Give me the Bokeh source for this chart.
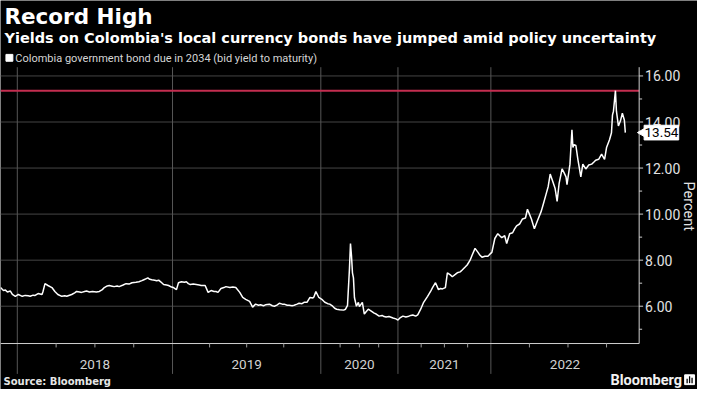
import math
from bokeh.plotting import figure
from bokeh.models import Range1d
from bokeh.core.properties import value
from bokeh.embed import file_html
from bokeh.resources import INLINE

# ---- data (observation index vs bid yield, %) ----
obs = [0, 3, 5, 7, 10, 12, 15, 18, 20, 22, 25, 28, 30, 33, 35, 38, 42, 43, 45, 48,
       52, 55, 58, 62, 65, 67, 72, 75, 77, 80, 82, 85, 87, 90, 93, 97, 100, 103, 105, 108,
       110, 113, 115, 118, 120, 124, 127, 130, 133, 137, 140, 143, 145, 147, 149, 151, 153, 156, 158, 160,
       162, 165, 168, 170, 173, 175, 178, 180, 183, 186, 188, 190, 192, 195, 198, 201, 203, 207, 210, 213,
       216, 218, 220, 223, 226, 228, 232, 235, 238, 242, 245, 248, 252, 255, 258, 261, 263, 266, 268, 272,
       275, 277, 280, 282, 285, 287, 290, 292, 295, 297, 300, 302, 305, 307, 310, 313, 316, 317, 319, 322,
       325, 328, 331, 333, 336, 338, 340, 343, 347, 349, 351, 353, 354, 355, 356, 357, 358, 360, 362, 363,
       366, 368, 370, 372, 375, 378, 380, 383, 386, 388, 390, 393, 397, 400, 402, 404, 407, 410, 412, 415,
       417, 420, 422, 425, 428, 430, 432, 435, 437, 440, 443, 445, 447, 450, 452, 455, 457, 460, 462, 465,
       467, 470, 472, 475, 477, 480, 483, 485, 487, 490, 493, 495, 497, 500, 503, 505, 507, 510, 512, 515,
       518, 520, 522, 525, 528, 531, 533, 535, 537, 540, 543, 547, 549, 552, 554, 556, 558, 561, 563, 565,
       568, 570, 572, 573, 576, 578, 579, 580, 582, 584, 587, 589, 592, 595, 598, 600, 602, 605, 608, 611,
       613, 616, 618, 619, 620, 622, 623, 625, 627, 629, 631, 632]
yld = [6.81, 6.68, 6.70, 6.62, 6.66, 6.51, 6.43, 6.51, 6.47, 6.43, 6.47, 6.45, 6.43, 6.48, 6.47, 6.55, 6.51, 6.64, 6.98, 6.90,
       6.81, 6.64, 6.51, 6.43, 6.45, 6.43, 6.51, 6.58, 6.64, 6.62, 6.60, 6.64, 6.66, 6.62, 6.64, 6.62, 6.64, 6.72, 6.81, 6.88,
       6.90, 6.87, 6.85, 6.88, 6.85, 6.92, 6.98, 6.96, 7.02, 7.04, 7.06, 7.11, 7.15, 7.19, 7.23, 7.17, 7.15, 7.13, 7.11, 7.13,
       7.06, 6.94, 6.92, 6.90, 6.83, 6.81, 6.72, 7.02, 7.06, 7.04, 7.06, 6.98, 6.94, 6.96, 6.94, 6.92, 6.90, 6.90, 6.60, 6.68,
       6.64, 6.64, 6.60, 6.77, 6.81, 6.85, 6.81, 6.83, 6.81, 6.60, 6.38, 6.30, 6.21, 5.96, 6.09, 6.04, 6.06, 6.02, 6.06, 6.09,
       6.02, 6.00, 6.06, 6.13, 6.09, 6.09, 6.04, 6.04, 6.02, 6.04, 6.09, 6.13, 6.11, 6.17, 6.17, 6.38, 6.36, 6.40, 6.64, 6.38,
       6.30, 6.17, 6.11, 6.09, 6.00, 5.91, 5.87, 5.85, 5.83, 5.87, 6.04, 7.66, 8.72, 8.20, 7.45, 7.23, 6.38, 6.00, 6.17, 5.98,
       6.17, 5.66, 5.77, 5.87, 5.79, 5.70, 5.66, 5.57, 5.60, 5.55, 5.53, 5.55, 5.49, 5.45, 5.40, 5.49, 5.57, 5.53, 5.55, 5.60,
       5.62, 5.57, 5.62, 5.87, 6.17, 6.30, 6.43, 6.64, 6.81, 7.02, 6.72, 6.77, 6.75, 6.81, 7.45, 7.36, 7.28, 7.38, 7.45, 7.49,
       7.57, 7.70, 7.79, 8.00, 8.21, 8.51, 8.34, 8.21, 8.13, 8.17, 8.17, 8.26, 8.34, 8.94, 9.15, 9.06, 8.98, 9.06, 8.72, 9.15,
       9.19, 9.36, 9.49, 9.57, 9.79, 9.83, 10.21, 10.00, 9.79, 9.36, 9.70, 10.13, 10.43, 10.89, 11.20, 11.74, 11.49, 11.11, 10.55, 11.32,
       11.96, 11.80, 11.62, 11.28, 12.17, 13.66, 12.89, 13.02, 12.98, 12.38, 11.62, 12.17, 11.96, 12.13, 12.17, 12.25, 12.34, 12.38, 12.60, 12.38,
       12.89, 13.23, 13.53, 14.30, 14.47, 15.36, 14.47, 13.83, 14.04, 14.38, 14.09, 13.54]

year_starts = [17, 174, 324, 402, 496, 652]   # observation index where each year begins
year_labels = ["2018", "2019", "2020", "2021", "2022"]
axis_end = 646          # last observation index shown on the axis
record_high = 15.36
last_value = 13.54
y_major = [6, 8, 10, 12, 14, 16]
y_minor = [5, 7, 9, 11, 13, 15]
y_lo, y_hi = 4.38, 16.38

TITLE = "Record High"
SUBTITLE = "Yields on Colombia's local currency bonds have jumped amid policy uncertainty"
SERIES = "Colombia government bond due in 2034 (bid yield to maturity)"
SOURCE = "Source: Bloomberg"
UNIT = "Percent"

# ---- layout constants (pixels of the 705x397 canvas) ----
W, H = 705, 397
PX_PER_UNIT = 23.5
Y16_PX = 77            # pixel row of the 16.00 level
y_top = 16 + Y16_PX / PX_PER_UNIT
y_bot = 16 - (H - Y16_PX) / PX_PER_UNIT


def px(n):
    return n / PX_PER_UNIT


p = figure(width=697, height=389, output_backend="svg", toolbar_location=None,
           x_range=Range1d(0, W), y_range=Range1d(y_bot, y_top),
           x_axis_location=None, y_axis_location=None, title=None,
           background_fill_color="black", border_fill_color="black",
           outline_line_color=None, min_border=0)
p.extra_y_ranges = {"px": Range1d(H, 0)}
p.grid.visible = False

FONT = value("Roboto")
BOLD = value("DejaVu Sans")
AX = "#cfcfcf"
GRID = "#454545"

# horizontal gridlines
p.segment(x0=0, x1=axis_end, y0=y_major, y1=y_major, line_color=GRID, line_width=1)
# year separators (grid + long tick below axis)
bounds = [b for b in year_starts if b < axis_end]
p.segment(x0=bounds, x1=bounds, y0=y_hi, y1=y_lo - px(31), line_color="#575757", line_width=1)

# record-high line
p.segment(x0=[0], x1=[axis_end], y0=[record_high], y1=[record_high],
          line_color="#c42e50", line_width=2)

# series
p.line(obs, yld, line_color="white", line_width=1.5)

# x axis line + quarter ticks
quarters = []
for a, b in zip(year_starts[:-1], year_starts[1:]):
    for k in range(1, 4):
        q = a + (b - a) * k / 4
        if q < axis_end:
            quarters.append(q)
p.segment(x0=[0], x1=[axis_end], y0=[y_lo], y1=[y_lo], line_color=AX, line_width=1)
p.segment(x0=quarters, x1=quarters, y0=y_lo, y1=y_lo - px(4), line_color="#9a9a9a", line_width=1)

# year labels
mids = [(a + min(b, axis_end)) / 2 for a, b in zip(year_starts[:-1], year_starts[1:])]
p.text(x=mids, y=[371] * len(mids), text=year_labels, y_range_name="px",
       text_font=FONT, text_font_size=value("13.5px"), text_color="#d2d2d2",
       text_align="center", text_baseline="middle")

# right axis
p.segment(x0=[axis_end], x1=[axis_end], y0=[y_lo], y1=[y_hi], line_color=AX, line_width=1)
p.segment(x0=axis_end, x1=axis_end + 4, y0=y_major, y1=y_major, line_color=AX, line_width=1)
p.segment(x0=axis_end, x1=axis_end + 3, y0=y_minor, y1=y_minor, line_color=AX, line_width=1)
p.text(x=[axis_end + 6] * len(y_major), y=y_major, text=[f"{v:.2f}" for v in y_major],
       text_font=FONT, text_font_size=value("14px"), text_color="#e2e2e2",
       text_align="left", text_baseline="middle")
p.text(x=[696], y=[210], text=[UNIT], y_range_name="px", angle=-math.pi / 2,
       text_font=FONT, text_font_size=value("14.5px"), text_color="#e2e2e2",
       text_align="center", text_baseline="middle")

# last-value callout
p.scatter(x=[axis_end + 3.5], y=[last_value], marker="triangle", size=9, angle=math.pi / 2,
          fill_color="white", line_color="white")
p.rect(x=[axis_end + 22.5], y=[last_value], width=35, height=px(15),
       fill_color="white", line_color="white")
p.text(x=[axis_end + 22.5], y=[last_value], text=[f"{last_value:.2f}"],
       text_font=FONT, text_font_size=value("13.5px"), text_color="black",
       text_align="center", text_baseline="middle")

# titles
p.text(x=[4], y=[16], text=[TITLE], y_range_name="px", text_font=BOLD,
       text_font_size=value("21.5px"), text_font_style="bold", text_color="white",
       text_align="left", text_baseline="middle")
p.text(x=[4], y=[38], text=[SUBTITLE], y_range_name="px", text_font=BOLD,
       text_font_size=value("14.5px"), text_font_style="bold", text_color="white",
       text_align="left", text_baseline="middle")
p.rect(x=[9], y=[58.5], width=7, height=7, y_range_name="px",
       fill_color="white", line_color="white")
p.text(x=[15], y=[59], text=[SERIES], y_range_name="px", text_font=FONT,
       text_font_size=value("11px"), text_color="#d6d6d6",
       text_align="left", text_baseline="middle")

# footer
p.text(x=[3], y=[389], text=[SOURCE], y_range_name="px", text_font=BOLD,
       text_font_size=value("10px"), text_font_style="bold", text_color="#e6e6e6",
       text_align="left", text_baseline="middle")
p.text(x=[617], y=[388], text=["Bloomberg"], y_range_name="px", text_font=FONT,
       text_font_size=value("14.5px"), text_font_style="bold", text_color="#f2f2f2",
       text_align="left", text_baseline="middle")
p.rect(x=[697], y=[387], width=10, height=10, y_range_name="px",
       fill_color="white", line_color="white")
p.vbar(x=[694.5, 697, 699.5], bottom=[390.5] * 3, top=[386, 383.5, 385], width=1.3,
       y_range_name="px", fill_color="black", line_color=None)

open("out.html", "w").write(file_html(p, INLINE))
